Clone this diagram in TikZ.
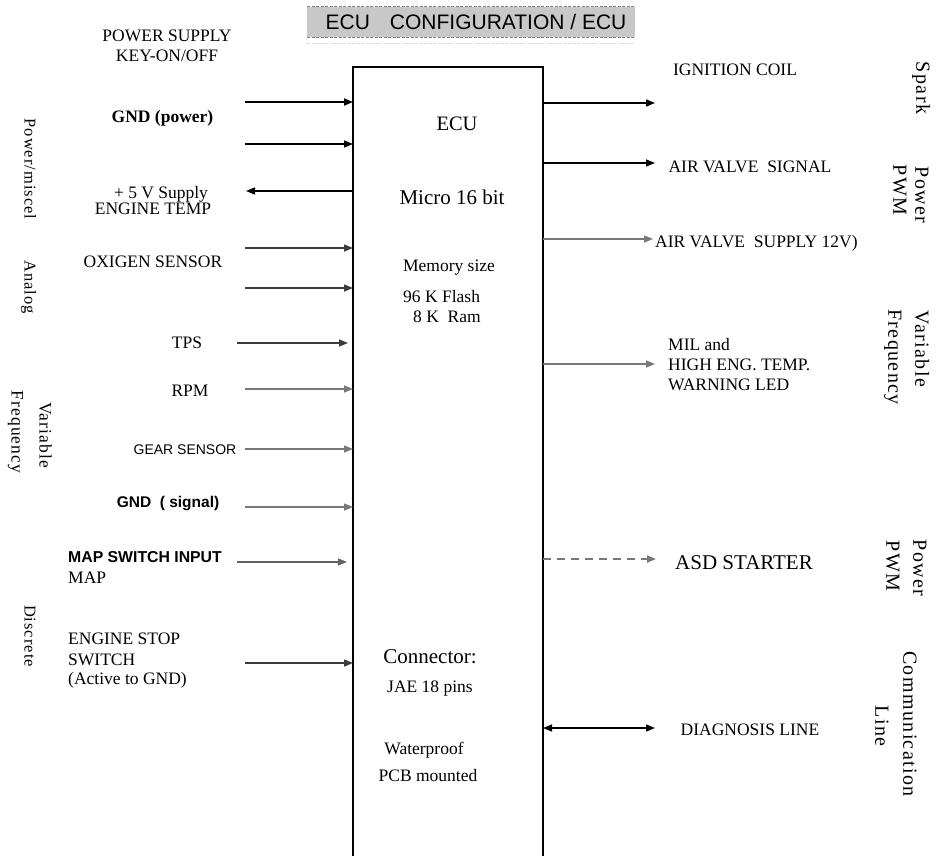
\documentclass[tikz,border=0pt]{standalone}
\usepackage{fontspec}
\setmainfont{Liberation Serif}
\setsansfont{Liberation Sans}
\newfontfamily\lsL[LetterSpace=6]{Liberation Serif}
\newfontfamily\lsR[LetterSpace=7]{Liberation Serif}
\usetikzlibrary{arrows.meta}
\definecolor{tgray}{RGB}{200,200,200}
\definecolor{lgray}{RGB}{120,120,120}
\definecolor{dgray}{RGB}{60,60,60}
\newcommand\fsz[1]{\fontsize{#1}{#1}\selectfont}
\begin{document}
\begin{tikzpicture}[x=1pt,y=-1pt,
  tx/.style={inner sep=0pt, text height=11.5pt, text depth=0pt, font=\fsz{17.5}},
  txs/.style={inner sep=0pt, text depth=0pt},
  rl/.style={inner sep=0pt, rotate=-90, text height=10.9pt, text depth=0pt, font=\lsL\fsz{16.5}},
  rr/.style={inner sep=0pt, rotate=-90, text height=13.2pt, text depth=0pt, font=\lsR\fsz{20}},
  ar/.style={-{Triangle[length=9pt,width=7pt]}, line width=1.4pt},
  arg/.style={ar, draw=lgray},
  ard/.style={ar, draw=dgray}
]
\useasboundingbox (0,0) rectangle (937,856);
\clip (0,0) rectangle (937,856);

% title
\node[fill=tgray, inner sep=0pt, minimum width=328pt, minimum height=30pt, anchor=north west] (tbox) at (307,7) {};
\draw[gray, line width=1pt, dash pattern=on 3pt off 1.5pt] (tbox.north west) -- (tbox.north east);
\draw[gray, line width=1pt, dash pattern=on 3pt off 1.5pt] (tbox.south west) -- (tbox.south east);
\draw[gray!30, line width=0.8pt, dash pattern=on 3pt off 1.5pt] ([yshift=-6pt]tbox.south west) -- ([yshift=-6pt]tbox.south east);
\node[txs, text height=15pt, font=\sffamily\fsz{21}] (title) at (476,22.5) {ECU\hspace{20pt}CONFIGURATION / ECU};

% ECU box
\node[draw, line width=2.8pt, inner sep=0pt, outer sep=0pt, minimum width=190pt, minimum height=830pt, anchor=north west] (ecu) at (353,67) {};

% box contents
\node[tx, font=\fsz{20.5}, text height=13.6pt] (tecu) at (457,124) {ECU};
\node[tx, font=\fsz{21}, text height=13.9pt] (tmicro) at (452,198) {Micro 16 bit};
\node[tx] (tmem) at (449,266) {Memory size};
\node[tx, anchor=west] (tflash) at (403,297) {96 K Flash};
\node[tx, anchor=west] (tram) at (413,317) {8 K\ \ Ram};
\node[tx, font=\fsz{21}, text height=13.9pt] (tcon) at (430,657) {Connector:};
\node[tx] (tjae) at (430,687) {JAE 18 pins};
\node[tx] (twp) at (424,749) {Waterproof};
\node[tx] (tpcb) at (428,776) {PCB mounted};

% left labels
\node[tx] (ps1) at (167,35.5) {POWER SUPPLY};
\node[tx] (ps2) at (167,56) {KEY-ON/OFF};
\node[tx, font=\bfseries\fsz{17.5}] (gndp) at (162.5,117) {GND (power)};
\node[tx] (v5) at (161,193) {+ 5 V Supply};
\node[tx] (et) at (153,209) {ENGINE TEMP};
\node[tx] (oxy) at (153,262) {OXIGEN SENSOR};
\node[tx] (tps) at (187,343) {TPS};
\node[tx] (rpm) at (190,391) {RPM};
\node[txs, text height=10pt, font=\sffamily\fsz{14}] (gear) at (185,449) {GEAR SENSOR};
\node[txs, text height=11pt, font=\sffamily\bfseries\fsz{15.5}] (gnds) at (168,502) {GND\ \ ( signal)};
\node[txs, text height=11.3pt, font=\sffamily\bfseries\fsz{15.8}, anchor=west] (map1) at (68,557) {MAP SWITCH INPUT};
\node[tx, anchor=west] (map2) at (68,578) {MAP};
\node[tx, anchor=west] (es1) at (68,639) {ENGINE STOP};
\node[tx, anchor=west] (es2) at (68,660) {SWITCH};
\node[tx, anchor=west] (es3) at (68,679) {(Active to GND)};

% left rotated group labels
\node[rl] (rpow) at (30,169) {Power/miscel};
\node[rl] (rana) at (30,287) {Analog};
\node[rl, font=\lsL\fsz{17.5}] (rvar) at (45,435) {Variable};
\node[rl, font=\lsL\fsz{17.5}] (rfreq) at (17,432) {Frequency};
\node[rl] (rdis) at (30,636) {Discrete};

% right labels
\node[tx] (ign) at (735,70) {IGNITION COIL};
\node[tx] (avs) at (750,167) {AIR VALVE\ \ SIGNAL};
\node[tx, anchor=west] (avp) at (655,242) {AIR VALVE\ \ SUPPLY 12V)};
\node[tx, anchor=west] (mil1) at (668,345) {MIL and};
\node[tx, anchor=west] (mil2) at (668,365) {HIGH ENG. TEMP.};
\node[tx, anchor=west] (mil3) at (668,385) {WARNING LED};
\node[tx, font=\fsz{21}, text height=13.9pt] (asd) at (744,563) {ASD STARTER};
\node[tx] (diag) at (750,730) {DIAGNOSIS LINE};

% right rotated group labels
\node[rr] (rspark) at (923,88) {Spark};
\node[rr] (rpw1) at (922,195) {Power};
\node[rr] (rpw1b) at (900,190) {PWM};
\node[rr] (rvf1) at (922,349) {Variable};
\node[rr] (rvf2) at (895,357) {Frequency};
\node[rr] (rpw2) at (920,568) {Power};
\node[rr] (rpw2b) at (893,566) {PWM};
\node[rr] (rcom) at (910,724) {Communication};
\node[rr] (rline) at (882,726) {Line};

% left connectors
\coordinate (a1) at (245,102);
\coordinate (a2) at (245,144);
\coordinate (a3) at (246,191);
\coordinate (a4) at (245,248);
\coordinate (a5) at (245,288);
\coordinate (a6) at (237,343);
\coordinate (a6e) at (348,343);
\coordinate (a7) at (245,389);
\coordinate (a8) at (245,449);
\coordinate (a9) at (245,507);
\coordinate (a10) at (237,562);
\coordinate (a10e) at (347,562);
\coordinate (a11) at (245,663);
\draw[ar, line width=2pt] (a1) -- (a1 -| ecu.west);
\draw[ar] (a2) -- (a2 -| ecu.west);
\draw[ar] (a3 -| ecu.west) -- (a3);
\draw[ard] (a4) -- (a4 -| ecu.west);
\draw[ard] (a5) -- (a5 -| ecu.west);
\draw[ard] (a6) -- (a6e);
\draw[arg] (a7) -- (a7 -| ecu.west);
\draw[arg] (a8) -- (a8 -| ecu.west);
\draw[arg] (a9) -- (a9 -| ecu.west);
\draw[arg, draw=dgray!80] (a10) -- (a10e);
\draw[ard] (a11) -- (a11 -| ecu.west);

% right connectors
\coordinate (b1) at (655,103);
\coordinate (b2) at (655,163);
\coordinate (b3) at (653,239);
\coordinate (b4) at (655,364);
\coordinate (b5) at (656,559);
\coordinate (b6) at (655,728);
\draw[ar, line width=1.6pt] (b1 -| ecu.east) -- (b1);
\draw[ar] (b2 -| ecu.east) -- (b2);
\draw[arg] (b3 -| ecu.east) -- (b3);
\draw[arg] (b4 -| ecu.east) -- (b4);
\draw[arg, line width=2pt, dash pattern=on 8pt off 6pt] (b5 -| ecu.east) -- (b5);
\draw[{Triangle[length=9pt,width=7pt]}-{Triangle[length=9pt,width=7pt]}, line width=1.3pt] (b6 -| ecu.east) -- (b6);
\end{tikzpicture}
\end{document}
